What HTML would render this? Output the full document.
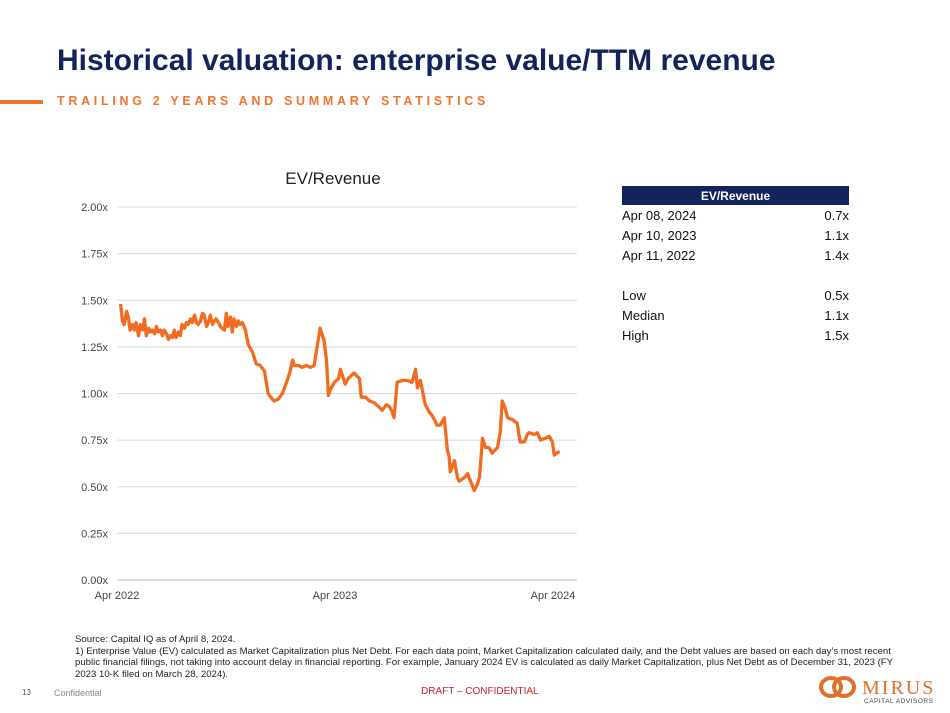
<!DOCTYPE html>
<html><head><meta charset="utf-8">
<style>
body{margin:0;width:950px;height:713px;background:#fff;font-family:"Liberation Sans",sans-serif;position:relative;overflow:hidden}
.abs{position:absolute}
#title{left:57px;top:44px;font-size:30px;font-weight:bold;color:#13235b;white-space:nowrap}
#subtitle{left:57px;top:94px;font-size:12.5px;font-weight:bold;color:#f0742b;letter-spacing:3.7px;white-space:nowrap}
#accent{left:0;top:100px;width:43px;height:4px;background:#f0742b}
table{position:absolute;left:622px;top:186px;width:227px;border-collapse:collapse;font-size:13px;color:#111}
th{background:#13235b;color:#fff;font-size:12px;height:19px;padding:0}
td{height:20px;padding:0}
td.r{text-align:right}
#foot{left:75px;top:634px;font-size:9.6px;line-height:11.5px;color:#222;white-space:nowrap}
</style></head><body>
<div class="abs" id="title">Historical valuation: enterprise value/TTM revenue</div>
<div class="abs" id="accent"></div>
<div class="abs" id="subtitle">TRAILING 2 YEARS AND SUMMARY STATISTICS</div>

<svg class="abs" style="left:0;top:0" width="600" height="620">
<text x="333" y="184" text-anchor="middle" font-size="17" fill="#222" font-family="Liberation Sans">EV/Revenue</text>
<g id="grid"></g><g id="yt"></g><g id="xt"></g>
<path id="line" fill="none" stroke="#f26b21" stroke-width="3.3" stroke-linejoin="round"/>
</svg>

<table>
<tr><th colspan="2">EV/Revenue</th></tr>
<tr><td>Apr 08, 2024</td><td class="r">0.7x</td></tr>
<tr><td>Apr 10, 2023</td><td class="r">1.1x</td></tr>
<tr><td>Apr 11, 2022</td><td class="r">1.4x</td></tr>
<tr><td></td><td></td></tr>
<tr><td>Low</td><td class="r">0.5x</td></tr>
<tr><td>Median</td><td class="r">1.1x</td></tr>
<tr><td>High</td><td class="r">1.5x</td></tr>
</table>

<div class="abs" id="foot">Source: Capital IQ as of April 8, 2024.<br>1) Enterprise Value (EV) calculated as Market Capitalization plus Net Debt. For each data point, Market Capitalization calculated daily, and the Debt values are based on each day’s most recent<br>public financial filings, not taking into account delay in financial reporting. For example, January 2024 EV is calculated as daily Market Capitalization, plus Net Debt as of December 31, 2023 (FY<br>2023 10-K filed on March 28, 2024).</div>
<div class="abs" style="left:22px;top:688px;font-size:8px;color:#555">13</div>
<div class="abs" style="left:54px;top:688px;font-size:9px;color:#888">Confidential</div>
<div class="abs" style="left:421px;top:686px;font-size:10px;color:#d0202a">DRAFT – CONFIDENTIAL</div>
<svg class="abs" style="left:818px;top:672px" width="120" height="36">
<ellipse cx="13" cy="15" rx="10" ry="9" fill="none" stroke="#e0702a" stroke-width="4"/>
<ellipse cx="26" cy="15" rx="10" ry="9" fill="none" stroke="#e0702a" stroke-width="4"/>
<text x="44" y="22" font-size="20" fill="#e0702a" font-family="Liberation Serif" letter-spacing="2">MIRUS</text>
<text x="46" y="31" font-size="6.5" fill="#444" font-family="Liberation Sans" letter-spacing="0.5">CAPITAL ADVISORS</text>
</svg>

<script>
const yTicks=[0,0.25,0.5,0.75,1.0,1.25,1.5,1.75,2.0];
const xTickLabels=["Apr 2022","Apr 2023","Apr 2024"];
const xTickDays=[-4,361,726];
const days=[2,5,8,12,15,18,22,25,28,32,35,39,42,45,49,52,55,59,62,65,69,72,75,79,82,85,89,92,95,99,102,105,109,112,115,119,122,126,129,132,136,139,142,146,149,152,156,159,162,166,169,172,176,179,182,186,189,192,196,199,202,206,211,216,223,229,236,243,249,256,259,266,273,280,286,290,293,300,306,313,320,326,330,336,343,347,350,353,360,367,370,373,378,383,393,402,405,412,419,427,434,440,447,452,457,460,465,474,482,490,496,499,504,512,519,524,532,537,544,549,552,554,561,566,569,578,583,588,594,599,603,608,613,619,624,633,638,641,646,650,658,666,671,678,683,686,695,700,705,713,720,725,728,732,737];
const values=[1.48,1.39,1.37,1.44,1.41,1.34,1.37,1.34,1.38,1.31,1.37,1.34,1.40,1.31,1.35,1.33,1.34,1.32,1.36,1.33,1.34,1.31,1.34,1.32,1.29,1.31,1.30,1.34,1.30,1.33,1.31,1.37,1.35,1.38,1.37,1.40,1.38,1.42,1.38,1.37,1.39,1.43,1.42,1.36,1.38,1.42,1.37,1.39,1.40,1.38,1.36,1.35,1.34,1.43,1.36,1.41,1.33,1.40,1.36,1.39,1.37,1.38,1.34,1.26,1.22,1.16,1.15,1.12,1.00,0.97,0.96,0.97,1.00,1.06,1.12,1.18,1.15,1.15,1.14,1.15,1.14,1.15,1.23,1.35,1.28,1.17,0.99,1.02,1.06,1.08,1.13,1.10,1.05,1.08,1.11,1.08,0.98,0.98,0.96,0.95,0.93,0.91,0.94,0.93,0.90,0.87,1.06,1.07,1.07,1.06,1.13,1.03,1.07,0.94,0.90,0.88,0.83,0.83,0.87,0.70,0.66,0.58,0.64,0.55,0.53,0.55,0.57,0.53,0.48,0.51,0.55,0.76,0.71,0.71,0.68,0.71,0.80,0.96,0.92,0.87,0.86,0.84,0.74,0.74,0.78,0.79,0.78,0.79,0.75,0.76,0.77,0.74,0.67,0.68,0.69];
const NS='http://www.w3.org/2000/svg';
const X=d=>117+(d+4)*218/365;
const Y=v=>580-v*186.5;
const grid=document.getElementById('grid'),yt=document.getElementById('yt'),xt=document.getElementById('xt');
yTicks.forEach(v=>{
  const l=document.createElementNS(NS,'line');
  l.setAttribute('x1',117);l.setAttribute('x2',577);l.setAttribute('y1',Y(v));l.setAttribute('y2',Y(v));
  l.setAttribute('stroke',v===0?'#bbb':'#d9d9d9');l.setAttribute('stroke-width',1);
  
  
  grid.appendChild(l);
  const t=document.createElementNS(NS,'text');
  t.setAttribute('x',108);t.setAttribute('y',Y(v)+4);t.setAttribute('text-anchor','end');
  t.setAttribute('font-size','11');t.setAttribute('fill','#444');t.setAttribute('font-family','Liberation Sans');
  t.textContent=v.toFixed(2)+'x';
  
  
  yt.appendChild(t);
});
xTickLabels.forEach((s,i)=>{
  const t=document.createElementNS(NS,'text');
  t.setAttribute('x',X(xTickDays[i]));t.setAttribute('y',599);t.setAttribute('text-anchor','middle');
  t.setAttribute('font-size','11');t.setAttribute('fill','#444');t.setAttribute('font-family','Liberation Sans');
  t.textContent=s;
  
  
  xt.appendChild(t);
});
document.getElementById('line').setAttribute('d',days.map((d,i)=>(i?'L':'M')+X(d).toFixed(1)+' '+Y(values[i]).toFixed(1)).join(''));
</script>
</body></html>
